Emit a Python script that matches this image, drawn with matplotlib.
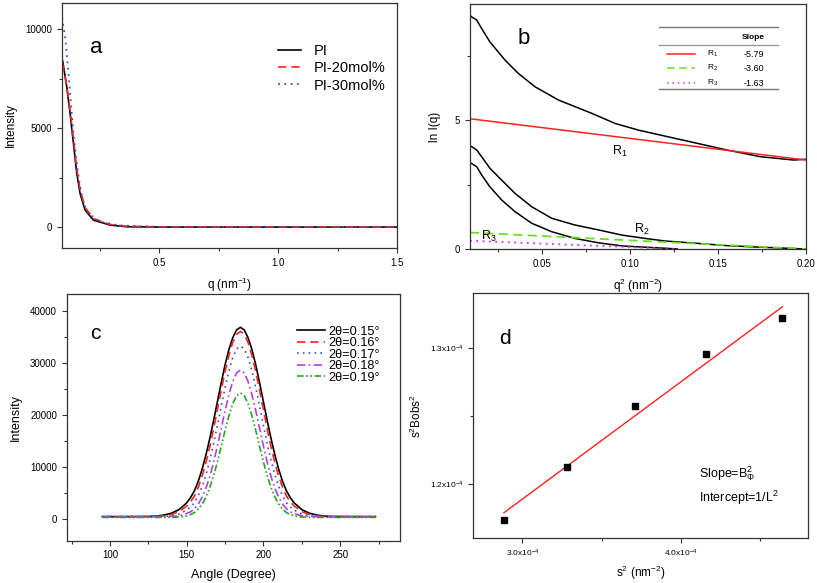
import matplotlib
matplotlib.use('Agg')
import matplotlib.pyplot as plt
from matplotlib.ticker import MultipleLocator, FixedLocator, FormatStrFormatter
from matplotlib.lines import Line2D

plt.rcParams['font.family'] = 'Liberation Sans'
plt.rcParams['mathtext.fontset'] = 'custom'
plt.rcParams['mathtext.rm'] = 'Liberation Sans'
plt.rcParams['mathtext.it'] = 'Liberation Sans:italic'
plt.rcParams['mathtext.bf'] = 'Liberation Sans:bold'
plt.rcParams['axes.linewidth'] = 0.9
plt.rcParams['axes.edgecolor'] = '#333333'

# ---- panel a : SAXS intensity vs q
q_pi = [0.0925, 0.0954, 0.112, 0.126, 0.140, 0.154, 0.168, 0.189, 0.224, 0.294, 0.364, 0.5, 1.0, 1.5]
i_pi = [8500, 8365, 7100, 5750, 4240, 2720, 1700, 860, 354, 100, 15, 0, 0, 0]
i_pi20 = [8300, 8200, 7150, 5900, 4450, 2950, 1900, 1000, 430, 130, 40, 10, 0, 0]
q_pi30 = [0.0925, 0.097, 0.105, 0.112, 0.119, 0.126, 0.133, 0.140, 0.154, 0.168, 0.182, 0.203,
          0.252, 0.336, 0.5, 1.0, 1.5]
i_pi30 = [10600, 10220, 9630, 8790, 7780, 6770, 5750, 4740, 3220, 2040, 1200, 690, 270, 80, 10, 0, 0]

# ---- panel b : ln I(q) vs q^2
top_x = [0.0095, 0.0102, 0.0131, 0.0159, 0.0206, 0.0291, 0.0367, 0.0462, 0.0594, 0.0784, 0.0916,
         0.1049, 0.1172, 0.1381, 0.1551, 0.174, 0.193, 0.2]
top_y = [9.05, 9.00, 8.88, 8.55, 8.03, 7.33, 6.81, 6.29, 5.78, 5.26, 4.87, 4.61, 4.42, 4.10, 3.84,
         3.58, 3.45, 3.48]
mid_x = [0.0095, 0.0102, 0.0131, 0.0159, 0.0206, 0.0273, 0.0348, 0.0443, 0.0557, 0.0689, 0.0822,
         0.0955, 0.1087, 0.1201, 0.1381, 0.1551, 0.174, 0.2]
mid_y = [3.99, 3.97, 3.84, 3.58, 3.13, 2.67, 2.16, 1.64, 1.19, 0.93, 0.74, 0.54, 0.41, 0.31, 0.22,
         0.13, 0.07, 0.0]
bot_x = [0.0095, 0.0102, 0.0131, 0.0159, 0.0206, 0.0273, 0.0348, 0.0443, 0.0557, 0.0689, 0.0822,
         0.0955, 0.1087, 0.1201, 0.127]
bot_y = [3.33, 3.32, 3.19, 2.87, 2.41, 1.90, 1.45, 1.00, 0.67, 0.41, 0.24, 0.12, 0.07, 0.03, 0.0]
r1_x, r1_y = [0.0093, 0.2], [5.05, 3.45]
r2_x, r2_y = [0.0093, 0.2], [0.64, 0.0]
r3_x, r3_y = [0.0093, 0.127], [0.32, 0.0]
slope_names = ['R$_1$', 'R$_2$', 'R$_3$']
slope_vals = ['-5.79', '-3.60', '-1.63']

# ---- panel c : azimuthal profiles
angle = [95, 110, 125, 130, 135, 140, 145,
         150, 152.5, 155, 157.5, 160, 162.5, 165, 167.5, 170, 172.5, 175, 177.5, 180, 182.5, 185,
         187.5, 190, 192.5, 195, 197.5, 200, 202.5, 205, 207.5, 210, 212.5, 215, 217.5, 220,
         225, 230, 235, 240, 245, 260, 273]
c015 = [450, 450, 480, 550, 750, 1100, 1800,
        3100, 4100, 5400, 7200, 9500, 12250, 15400, 18850, 22500, 26140, 29600, 32530, 34800, 36300, 36800,
        36300, 34800, 32530, 29600, 26140, 22500, 18850, 15400, 12250, 9500, 7200, 5400, 4100, 3100,
        1800, 1100, 750, 550, 480, 450, 450]
c016 = [450, 450, 450, 500, 600, 850, 1400,
        2500, 3300, 4400, 6050, 8200, 10760, 13800, 17260, 21000, 24710, 28300, 31430, 33900, 35460, 36000,
        35460, 33900, 31430, 28300, 24710, 21000, 17260, 13800, 10760, 8200, 6050, 4400, 3300, 2500,
        1400, 850, 600, 500, 450, 450, 450]
c017 = [450, 450, 450, 450, 500, 600, 950,
        1700, 2300, 3100, 4440, 6200, 8450, 11200, 14410, 17950, 21650, 25200, 28450, 31000, 32640, 33200,
        32640, 31000, 28450, 25200, 21650, 17950, 14410, 11200, 8450, 6200, 4440, 3100, 2300, 1700,
        950, 600, 500, 450, 450, 450, 450]
c018 = [450, 450, 450, 450, 450, 480, 600,
        1050, 1360, 1960, 2860, 4140, 5880, 8100, 10850, 14000, 17380, 20800, 23890, 26400, 28030, 28600,
        28030, 26400, 23890, 20800, 17380, 14000, 10850, 8100, 5880, 4140, 2860, 1960, 1360, 1050,
        600, 480, 450, 450, 450, 450, 450]
c019 = [300, 300, 300, 300, 300, 300, 380,
        590, 840, 1240, 1880, 2830, 4180, 5980, 8260, 10950, 13940, 17000, 19830, 22150, 23670, 24200,
        23670, 22150, 19830, 17000, 13940, 10950, 8260, 5980, 4180, 2830, 1880, 1240, 840, 590,
        380, 300, 300, 300, 300, 300, 300]
c_labels = ['2θ=0.15°', '2θ=0.16°', '2θ=0.17°', '2θ=0.18°', '2θ=0.19°']

# ---- panel d
s2 = [2.884e-4, 3.284e-4, 3.712e-4, 4.160e-4, 4.642e-4]
s2b2 = [1.1736e-4, 1.2125e-4, 1.2572e-4, 1.2956e-4, 1.3216e-4]
fit_x = [2.884e-4, 4.642e-4]
fit_y = [1.1790e-4, 1.3300e-4]

W, H = 817, 583
fig = plt.figure(figsize=(W / 100, H / 100), dpi=100)


def box(l, t, r, b):
    return [l / W, 1 - b / H, (r - l) / W, (b - t) / H]


def style(ax):
    ax.tick_params(which='both', direction='out', top=False, right=False,
                   labelsize=7, color='#333333', width=0.8)
    ax.tick_params(which='major', length=3.5)
    ax.tick_params(which='minor', length=2)


# a
ax = fig.add_axes(box(62, 3, 397, 248))
ax.plot(q_pi, i_pi, color='black', lw=1.2, label='PI')
ax.plot(q_pi, i_pi20, color='#ff2020', lw=1.2, ls=(0, (5, 3)), label='PI-20mol%')
ax.plot(q_pi30, i_pi30, color='#3a4fc8', lw=1.3, ls=(0, (1, 2.5)), label='PI-30mol%')
ax.set_xlim(0.092, 1.5)
ax.set_ylim(-1060, 11340)
ax.xaxis.set_major_locator(FixedLocator([0.5, 1.0, 1.5]))
ax.xaxis.set_minor_locator(FixedLocator([0.25, 0.75, 1.25]))
ax.yaxis.set_major_locator(FixedLocator([0, 5000, 10000]))
ax.yaxis.set_minor_locator(FixedLocator([2500, 7500]))
style(ax)
ax.set_xlabel('q (nm$^{-1}$)', fontsize=8.5, labelpad=6)
ax.set_ylabel('Intensity', fontsize=8.5, labelpad=6)
ax.text(0.103, 0.82, 'a', transform=ax.transAxes, fontsize=16, ha='center', va='center')
ax.legend(loc='upper left', bbox_to_anchor=(0.645, 0.832), frameon=False, fontsize=10.5,
          handlelength=1.6, handletextpad=0.85, labelspacing=0.22, borderpad=0, borderaxespad=0)

# b
ax = fig.add_axes(box(470, 4, 806, 249))
ax.plot(top_x, top_y, color='black', lw=1.1)
ax.plot(mid_x, mid_y, color='black', lw=1.1)
ax.plot(bot_x, bot_y, color='black', lw=1.1)
ax.plot(r1_x, r1_y, color='#ff2020', lw=1.1)
ax.plot(r2_x, r2_y, color='#66e020', lw=1.3, ls=(0, (5, 3)))
ax.plot(r3_x, r3_y, color='#cc33ee', lw=1.3, ls=(0, (1, 2.5)))
ax.set_xlim(0.0093, 0.20)
ax.set_ylim(0, 9.5)
ax.xaxis.set_major_locator(FixedLocator([0.05, 0.10, 0.15, 0.20]))
ax.xaxis.set_minor_locator(FixedLocator([0.025, 0.075, 0.125, 0.175]))
ax.xaxis.set_major_formatter(FormatStrFormatter('%.2f'))
ax.yaxis.set_major_locator(FixedLocator([0, 5]))
ax.yaxis.set_minor_locator(FixedLocator([2.5, 7.5]))
style(ax)
ax.set_xlabel('q$^2$ (nm$^{-2}$)', fontsize=8.5, labelpad=6)
ax.set_ylabel('ln I(q)', fontsize=8.5, labelpad=10)
ax.text(0.16, 0.86, 'b', transform=ax.transAxes, fontsize=16, ha='center', va='center')
ax.text(0.0946, 3.77, 'R$_1$', fontsize=9, ha='center', va='center')
ax.text(0.107, 0.74, 'R$_2$', fontsize=9, ha='center', va='center')
ax.text(0.0197, 0.48, 'R$_3$', fontsize=9, ha='center', va='center')
# slope table
for yy, c in [(0.907, '#777777'), (0.833, '#999999'), (0.653, '#777777')]:
    ax.add_line(Line2D([0.5625, 0.9158], [yy, yy], transform=ax.transAxes, color=c, lw=1.0))
ax.text(0.842, 0.864, 'Slope', transform=ax.transAxes, fontsize=6, fontweight='bold',
        ha='center', va='center')
row_y = [0.795, 0.738, 0.676]
row_style = [('#ff2020', '-'), ('#66e020', (0, (5, 3))), ('#cc33ee', (0, (1, 2.5)))]
for yy, (c, ls), nm, v in zip(row_y, row_style, slope_names, slope_vals):
    ax.add_line(Line2D([0.585, 0.670], [yy, yy], transform=ax.transAxes, color=c, lw=1.1, ls=ls))
    ax.text(0.704, yy, nm, transform=ax.transAxes, fontsize=6, va='center')
    ax.text(0.813, yy, v, transform=ax.transAxes, fontsize=6.5, va='center')

# c
ax = fig.add_axes(box(66.7, 294, 400, 540.7))
c_styles = [('black', '-'), ('#ff2020', (0, (5, 3))), ('#3a4fc8', (0, (1, 2.5))),
            ('#b040e8', (0, (5, 2, 1, 2))), ('#22aa22', (0, (4, 1.5, 1, 1.5, 1, 1.5)))]
for ys, (c, ls), lab in zip([c015, c016, c017, c018, c019], c_styles, c_labels):
    ax.plot(angle, ys, color=c, ls=ls, lw=1.2, label=lab)
ax.set_xlim(71.8, 289)
ax.set_ylim(-4170, 43200)
ax.xaxis.set_major_locator(FixedLocator([100, 150, 200, 250]))
ax.xaxis.set_minor_locator(FixedLocator([75, 125, 175, 225, 275]))
ax.yaxis.set_major_locator(MultipleLocator(10000))
ax.yaxis.set_minor_locator(MultipleLocator(5000))
style(ax)
ax.set_xlabel('Angle (Degree)', fontsize=9, labelpad=6)
ax.set_ylabel('Intensity', fontsize=9, labelpad=6)
ax.text(0.085, 0.84, 'c', transform=ax.transAxes, fontsize=15, ha='center', va='center')
ax.legend(loc='upper left', bbox_to_anchor=(0.69, 0.872), frameon=False, fontsize=9.2,
          handlelength=2.2, handletextpad=0.25, labelspacing=-0.04, borderpad=0, borderaxespad=0)

# d
ax = fig.add_axes(box(473.3, 293.3, 808.3, 538.3))
ax.plot(fit_x, fit_y, color='#ff2020', lw=1.0)
ax.plot(s2, s2b2, ls='none', marker='s', ms=4, color='black')
ax.set_xlim(2.690e-4, 4.806e-4)
ax.set_ylim(1.1602e-4, 1.3399e-4)
ax.xaxis.set_major_locator(FixedLocator([3.0e-4, 4.0e-4]))
ax.xaxis.set_minor_locator(FixedLocator([3.5e-4, 4.5e-4]))
ax.yaxis.set_major_locator(FixedLocator([1.2e-4, 1.3e-4]))
ax.yaxis.set_minor_locator(FixedLocator([1.25e-4]))
ax.set_xticklabels([r'3.0x10$^{-4}$', r'4.0x10$^{-4}$'])
ax.set_yticklabels([r'1.2x10$^{-4}$', r'1.3x10$^{-4}$'])
style(ax)
ax.tick_params(labelsize=6)
ax.set_xlabel('s$^2$ (nm$^{-2}$)', fontsize=8.5, labelpad=3)
ax.set_ylabel('s$^2$Bobs$^2$', fontsize=8.5, labelpad=4)
ax.text(0.095, 0.815, 'd', transform=ax.transAxes, fontsize=15, ha='center', va='center')
ax.text(0.675, 0.265, r'Slope=B$_{\Phi}^{2}$', transform=ax.transAxes, fontsize=9, va='center')
ax.text(0.675, 0.163, r'Intercept=1/L$^2$', transform=ax.transAxes, fontsize=9, va='center')

fig.savefig('out.png', dpi=100)
